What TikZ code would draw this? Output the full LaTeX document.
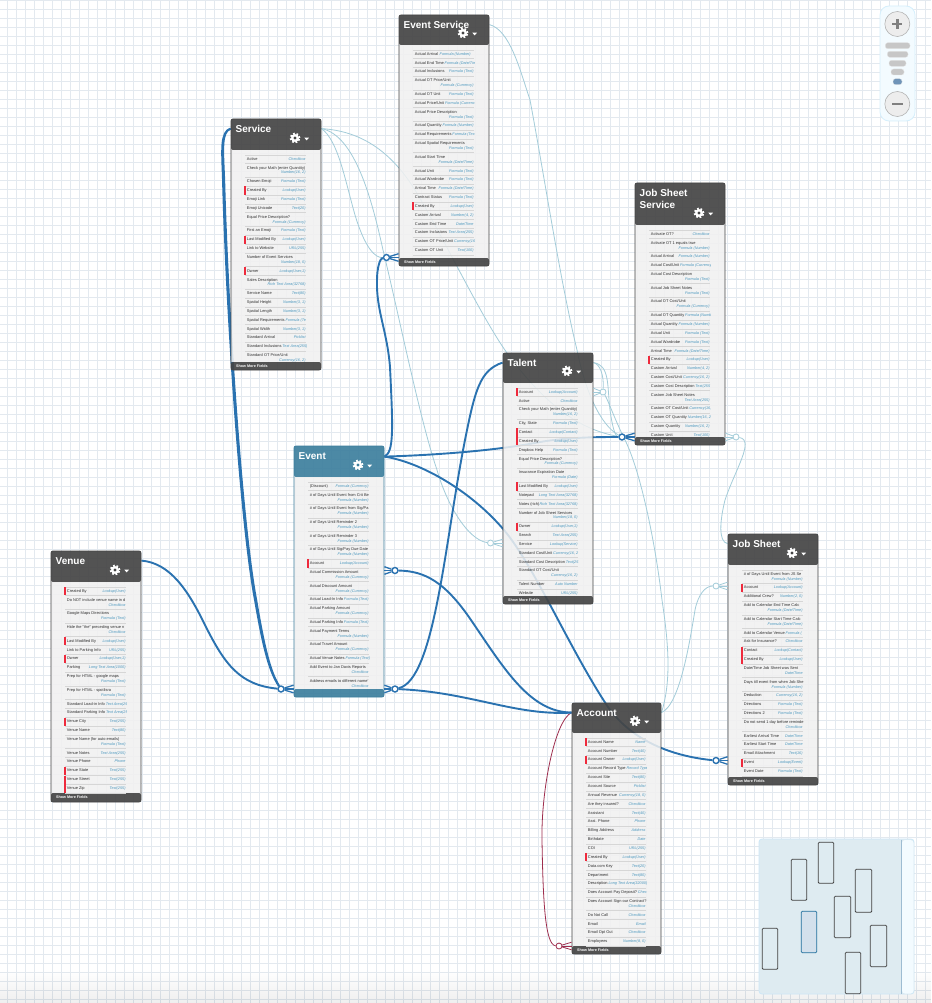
\documentclass[tikz,border=0pt]{standalone}
\usepackage{fontspec}
\setmainfont{Liberation Sans}
\usetikzlibrary{calc}
\pgfdeclarelayer{gridlayer}
\pgfdeclarelayer{connlayer}
\pgfsetlayers{gridlayer,connlayer,main}
\definecolor{boxdark}{HTML}{454545}
\definecolor{boxteal}{HTML}{3D7F9E}
\definecolor{panelc}{HTML}{F1F1F1}
\definecolor{gridc}{HTML}{E3E9EF}
\definecolor{linedark}{HTML}{2A72B0}
\definecolor{linelight}{HTML}{A3CCD9}
\definecolor{linemar}{HTML}{9E2D4D}
\definecolor{typec}{HTML}{4A97BE}
\definecolor{redbar}{HTML}{EE2A3C}
\definecolor{sepc}{HTML}{D6D6D6}
\definecolor{mapfill}{RGB}{222,235,241}
\definecolor{mapedge}{RGB}{205,232,247}
\definecolor{paleblue}{RGB}{243,251,255}
\definecolor{mapline}{RGB}{157,188,210}
\definecolor{mapsel}{RGB}{211,224,236}
\definecolor{mapseledge}{RGB}{31,110,156}
\definecolor{zoomedge}{RGB}{213,239,252}
\definecolor{pillblue}{RGB}{111,148,184}
\newcounter{rowc}
\def\hdcol{boxdark}
\tikzset{
  objframe/.style={draw,rounded corners=2pt,inner sep=0pt,line width=.8pt},
  objtitle/.style={anchor=north west,inner sep=0pt,text=white,align=left,font=\fontsize{10}{11.2}\selectfont\bfseries},
  morefields/.style={anchor=west,inner sep=0pt,text=white,font=\fontsize{3.7}{4}\selectfont\bfseries},
  fname/.style={anchor=west,inner sep=0pt,text height=2.9pt,text depth=.8pt,text=black!82,font=\fontsize{3.95}{4.5}\selectfont},
  ftype/.style={inner sep=0pt,text height=2.9pt,text depth=.8pt,text=typec,font=\fontsize{3.8}{4.5}\selectfont\itshape},
  darkconn/.style={draw=linedark,line width=1.9pt},
  lightconn/.style={draw=linelight,line width=.8pt},
  marconn/.style={draw=linemar,line width=.8pt},
  darkcrow/.style={circle,draw=linedark,fill=white,inner sep=0pt,minimum size=6pt,line width=1.4pt},
  lightcrow/.style={circle,draw=linelight,fill=white,inner sep=0pt,minimum size=6pt,line width=.8pt},
  marcrow/.style={circle,draw=linemar,fill=white,inner sep=0pt,minimum size=6pt,line width=.8pt},
  mapbox/.style={draw=black!75,line width=.8pt,rounded corners=1pt},
  pill/.style={fill=black!22,draw=black!10,line width=.3pt,rounded corners=2.5pt},
  zoombtn/.style={fill=black!7,draw=black!30,line width=.6pt}
}
\newcommand\gearicon[2]{%
  \fill[white] (#1,#2) circle (3.9pt);
  \draw[white,line width=2pt,dash pattern=on 1.8pt off 1.73pt] (#1,#2) circle (4.5pt);
  \fill[\hdcol] (#1,#2) circle (1.7pt);
  \fill[white] (#1+9.3,#2-.3) -- (#1+14,#2-.3) -- (#1+11.65,#2+2.4) -- cycle;
}
% id x1 y1 x2 y2 headerbottom footertop title
\newcommand\objbox[8]{%
  \xdef\xL{#2}\xdef\xR{#4}\xdef\yH{#6}\xdef\yF{#7}%
  \pgfmathparse{#6+9.2}\xdef\rowy{\pgfmathresult}%
  \fill[\hdcol,fill opacity=.92,rounded corners=2pt] (#2,#3) rectangle (#4,#6);
  \fill[\hdcol,fill opacity=.92,rounded corners=2pt] (#2,#7) rectangle (#4,#5);
  \fill[panelc,fill opacity=.86] (#2,#6) rectangle (#4,#7);
  \pgfmathsetmacro\bw{#4-#2}\pgfmathsetmacro\bh{#5-#3}%
  \node[objframe,draw=\hdcol,minimum width=\bw pt,minimum height=\bh pt] (#1) at ({(#2+#4)/2},{(#3+#5)/2}) {};
  \node[objtitle] (#1title) at (#2+4.5,#3+6.5) {#8};
  \gearicon{#4-26}{#6-12}
}
\newcommand\morefields[1]{\node[morefields] (#1more) at (\xL+5,\yF+4.2) {Show More Fields};}
\newcommand\rowline[1]{\draw[sepc,line width=.5pt] (\xL+14,\rowy+#1) -- (\xR-15,\rowy+#1);}
\newcommand\nextrow[1]{\pgfmathparse{\rowy+#1}\xdef\rowy{\pgfmathresult}}
\newcommand\redmark[1]{\fill[redbar] (\xL+13.2,\rowy-4.1) rectangle (\xL+15,\rowy+#1);}
% single row
\newcommand\RS[2]{\stepcounter{rowc}%
  \node[fname] (r\arabic{rowc}a) at (\xL+15.7,\rowy) {#1};
  \node[ftype,anchor=east] (r\arabic{rowc}b) at (\xR-15.2,\rowy) {#2};
  \rowline{4.35}\nextrow{8.85}}
\newcommand\RR[2]{\redmark{4.1}\RS{#1}{#2}}
% single row whose type runs on right after the name and is cut off
\newcommand\RT[2]{\stepcounter{rowc}%
  \node[fname] (r\arabic{rowc}a) at (\xL+15.7,\rowy) {#1};
  \node[ftype,anchor=west,xshift=.5pt] (r\arabic{rowc}b) at (r\arabic{rowc}a.east) {#2};
  \rowline{4.35}\nextrow{8.85}}
% double row
\newcommand\RD[2]{\stepcounter{rowc}%
  \node[fname] (r\arabic{rowc}a) at (\xL+15.7,\rowy) {#1};
  \node[ftype,anchor=east] (r\arabic{rowc}b) at (\xR-15.2,\rowy+4.9) {#2};
  \rowline{9.2}\nextrow{13.7}}
\newcommand\rowsbegin{\begin{scope}\clip (\xL,\yH) rectangle (\xR-15,\yF);\draw[sepc,line width=.5pt] (\xL+14,\yH+4.8) -- (\xR-15,\yH+4.8);}
\newcommand\rowsend{\end{scope}}
% name box-anchor x y circle-style line-style
\newcommand\crowfoot[6]{%
  \node[#5] (#1) at (#3,#4) {};
  \foreach \d in {-3.8,0,3.8}{\draw[#6] (#1) -- ($(#2 |- #1)+(0,\d)$);}
}
\begin{document}
\begin{tikzpicture}[x=1pt,y=-1pt]
\useasboundingbox (0,0) rectangle (931,1003);
\begin{pgfonlayer}{gridlayer}
  \fill[white] (0,0) rectangle (931,1003);
  \foreach \k in {0,...,102}{\draw[gridc,line width=.9pt] (7.3+9*\k,0) -- (7.3+9*\k,1003);}
  \foreach \k in {0,...,111}{\draw[gridc,line width=.9pt] (0,.3+9*\k) -- (931,.3+9*\k);}
  \foreach \k in {0,...,15}{\fill[black,fill opacity=.0045] (0,972+2*\k) rectangle (931,1003);}
\end{pgfonlayer}

% ---------- Service
\objbox{svc}{231}{119}{321}{370}{150}{362}{Service}
\morefields{svc}
\rowsbegin
\RS{Active}{Checkbox}
\RD{Check your Math (enter Quantity)}{Number(16, 2)}
\RS{Chosen Emoji}{Formula (Text)}
\RR{Created By}{Lookup(User)}
\RS{Emoji Link}{Formula (Text)}
\RS{Emoji Unicode}{Text(20)}
\RD{Equal Price Description?}{Formula (Currency)}
\RS{First an Emoji}{Formula (Text)}
\RR{Last Modified By}{Lookup(User)}
\RS{Link to Website}{URL(255)}
\RD{Number of Event Services}{Number(18, 0)}
\RR{Owner}{Lookup(User,1)}
\RD{Sales Description}{Rich Text Area(32768)}
\RS{Service Name}{Text(80)}
\RS{Spatial Height}{Number(3, 1)}
\RS{Spatial Length}{Number(3, 1)}
\RT{Spatial Requirements}{Formula (Te}
\RS{Spatial Width}{Number(3, 1)}
\RS{Standard Arrival}{Picklist}
\RT{Standard Inclusions}{Text Area(255)}
\RD{Standard OT Price/Unit}{Currency(16, 2)}
\rowsend

% ---------- Event Service
\objbox{evs}{399}{15}{489}{266}{45}{258}{Event Service}
\morefields{evs}
\rowsbegin
\RT{Actual Arrival}{\,Formula (Number)}
\RT{Actual End Time}{Formula (Date/Tim}
\RS{Actual Inclusions}{Formula (Text)}
\RD{Actual OT Price/Unit}{Formula (Currency)}
\RS{Actual OT Unit}{Formula (Text)}
\RT{Actual Price/Unit}{Formula (Currenc}
\RD{Actual Price Description}{Formula (Text)}
\RT{Actual Quantity}{Formula (Number)}
\RT{Actual Requirements}{Formula (Tex}
\RD{Actual Spatial Requirements}{Formula (Text)}
\RD{Actual Start Time}{Formula (Date/Time)}
\RS{Actual Unit}{Formula (Text)}
\RS{Actual Wardrobe}{Formula (Text)}
\RS{Arrival Time}{Formula (Date/Time)}
\RS{Contract Status}{Formula (Text)}
\RR{Created By}{Lookup(User)}
\RS{Custom Arrival}{Number(4, 2)}
\RS{Custom End Time}{Date/Time}
\RS{Custom Inclusions}{Text Area(255)}
\RT{Custom OT Price/Unit}{Currency(16}
\RS{Custom OT Unit}{Text(100)}
\rowsend

% ---------- Job Sheet Service
\objbox{jss}{635}{183}{725}{445}{225}{437}{Job Sheet\\Service}
\morefields{jss}
\rowsbegin
\RS{Activate OT?}{Checkbox}
\RD{Activate OT 1 equals true}{Formula (Number)}
\RS{Actual Arrival}{Formula (Number)}
\RT{Actual Cost/Unit}{Formula (Currency}
\RD{Actual Cost Description}{Formula (Text)}
\RD{Actual Job Sheet Notes}{Formula (Text)}
\RD{Actual OT Cost/Unit}{Formula (Currency)}
\RT{Actual OT Quantity}{Formula (Numb}
\RT{Actual Quantity}{Formula (Number)}
\RS{Actual Unit}{Formula (Text)}
\RS{Actual Wardrobe}{Formula (Text)}
\RS{Arrival Time}{Formula (Date/Time)}
\RR{Created By}{Lookup(User)}
\RS{Custom Arrival}{Number(4, 2)}
\RS{Custom Cost/Unit}{Currency(16, 2)}
\RT{Custom Cost Description}{Text(255}
\RD{Custom Job Sheet Notes}{Text Area(255)}
\RT{Custom OT Cost/Unit}{Currency(16,}
\RT{Custom OT Quantity}{Number(16, 2}
\RS{Custom Quantity}{Number(16, 2)}
\RS{Custom Unit}{Text(100)}
\rowsend

% ---------- Talent
\objbox{tal}{503}{353}{593}{604}{383}{596}{Talent}
\morefields{tal}
\rowsbegin
\RR{Account}{Lookup(Account)}
\RS{Active}{Checkbox}
\RD{Check your Math (enter Quantity)}{Number(16, 2)}
\RS{City, State}{Formula (Text)}
\RR{Contact}{Lookup(Contact)}
\RR{Created By}{Lookup(User)}
\RS{Dropbox Help}{Formula (Text)}
\RD{Equal Price Description?}{Formula (Currency)}
\RD{Insurance Expiration Date}{Formula (Date)}
\RR{Last Modified By}{Lookup(User)}
\RS{Notepad}{Long Text Area(32768)}
\RS{Notes (rich)}{Rich Text Area(32768)}
\RD{Number of Job Sheet Services}{Number(18, 0)}
\RR{Owner}{Lookup(User,1)}
\RS{Search}{Text Area(255)}
\RS{Service}{Lookup(Service)}
\RT{Standard Cost/Unit}{Currency(16, 2}
\RT{Standard Cost Description}{Text(25}
\RD{Standard OT Cost/Unit}{Currency(16, 2)}
\RS{Talent Number}{Auto Number}
\RS{Website}{URL(255)}
\rowsend

% ---------- Event
\def\hdcol{boxteal}
\objbox{evt}{294}{446}{384}{697}{477}{689}{Event}
\def\hdcol{boxdark}
\rowsbegin
\RS{(Discount)}{Formula (Currency)}
\RD{\# of Days Until Event from Crit Be}{Formula (Number)}
\RD{\# of Days Until Event from Sig/Pa}{Formula (Number)}
\RD{\# of Days Until Reminder 2}{Formula (Number)}
\RD{\# of Days Until Reminder 3}{Formula (Number)}
\RD{\# of Days Until Sig/Pay Due Date}{Formula (Number)}
\RR{Account}{Lookup(Account)}
\RD{Actual Commission Amount}{Formula (Currency)}
\RD{Actual Discount Amount}{Formula (Currency)}
\RT{Actual Load-In Info}{Formula (Text)}
\RD{Actual Parking Amount}{Formula (Currency)}
\RT{Actual Parking Info}{Formula (Text)}
\RD{Actual Payment Terms}{Formula (Number)}
\RD{Actual Travel Amount}{Formula (Currency)}
\RT{Actual Venue Notes}{Formula (Text)}
\RD{Add Event to Jan Davis Reports}{Checkbox}
\RD{Address emails to different name'}{Checkbox}
\rowsend

% ---------- Venue
\objbox{ven}{51}{551}{141}{802}{582}{793}{Venue}
\morefields{ven}
\rowsbegin
\RR{Created By}{Lookup(User)}
\RD{Do NOT include venue name in d}{Checkbox}
\RD{Google Maps Directions}{Formula (Text)}
\RD{Hide the "the" preceding venue n}{Checkbox}
\RR{Last Modified By}{Lookup(User)}
\RS{Link to Parking Info}{URL(255)}
\RR{Owner}{Lookup(User,1)}
\RS{Parking}{Long Text Area(1000)}
\RD{Prep for HTML - google maps}{Formula (Text)}
\RD{Prep for HTML - spotlisra}{Formula (Text)}
\RT{Standard Load-in Info}{Text Area(25}
\RT{Standard Parking Info}{Text Area(25}
\RR{Venue City}{Text(255)}
\RS{Venue Name}{Text(80)}
\RD{Venue Name (for auto emails)}{Formula (Text)}
\RS{Venue Notes}{Text Area(255)}
\RS{Venue Phone}{Phone}
\RR{Venue State}{Text(255)}
\RR{Venue Street}{Text(255)}
\RR{Venue Zip}{Text(255)}
\rowsend

% ---------- Job Sheet
\objbox{job}{728}{534}{818}{785}{565}{777}{Job Sheet}
\morefields{job}
\rowsbegin
\RD{\# of Days Until Event from JS Se}{Formula (Number)}
\RR{Account}{Lookup(Account)}
\RS{Additional Crew?}{Number(2, 0)}
\RD{Add to Calendar End Time Calc}{Formula (Date/Time)}
\RD{Add to Calendar Start Time Calc}{Formula (Date/Time)}
\RT{Add to Calendar Venue}{Formula (}
\RS{Ask for Insurance?}{Checkbox}
\RR{Contact}{Lookup(Contact)}
\RR{Created By}{Lookup(User)}
\RD{Date/Time Job Sheet was Sent}{Date/Time}
\RD{Days till event from when Job She}{Formula (Number)}
\RS{Deduction}{Currency(16, 2)}
\RS{Directions}{Formula (Text)}
\RS{Directions 2}{Formula (Text)}
\RD{Do not send 1 day before reminde}{Checkbox}
\RS{Earliest Arrival Time}{Date/Time}
\RS{Earliest Start Time}{Date/Time}
\RS{Email Attachment}{Text(16)}
\RR{Event}{Lookup(Event)}
\RS{Event Date}{Formula (Text)}
\rowsend

% ---------- Account
\objbox{acc}{572}{703}{661}{954}{733}{946}{Account}
\morefields{acc}
\rowsbegin
\RR{Account Name}{Name}
\RS{Account Number}{Text(40)}
\RR{Account Owner}{Lookup(User)}
\RT{Account Record Type}{Record Type}
\RS{Account Site}{Text(80)}
\RS{Account Source}{Picklist}
\RS{Annual Revenue}{Currency(18, 0)}
\RS{Are they insured?}{Checkbox}
\RS{Assistant}{Text(40)}
\RS{Asst. Phone}{Phone}
\RS{Billing Address}{Address}
\RS{Birthdate}{Date}
\RS{COI}{URL(255)}
\RR{Created By}{Lookup(User)}
\RS{Data.com Key}{Text(20)}
\RS{Department}{Text(80)}
\RT{Description}{Long Text Area(32000)}
\RT{Does Account Pay Deposit?}{Chec}
\RD{Does Account Sign our Contract?}{Checkbox}
\RS{Do Not Call}{Checkbox}
\RS{Email}{Email}
\RS{Email Opt Out}{Checkbox}
\RS{Employees}{Number(8, 0)}
\rowsend

% ---------- connectors
\coordinate (svcE) at ($(svc.north east)+(0,10)$);
\coordinate (svcW) at ($(svc.north west)+(0,10)$);
\coordinate (evsE) at ($(evs.north east)+(0,10)$);
\coordinate (talW) at ($(tal.north west)+(0,10)$);
\coordinate (talE) at ($(tal.north east)+(0,10)$);
\coordinate (evtE) at ($(evt.north east)+(0,11)$);
\coordinate (venE) at ($(ven.north east)+(0,10)$);
\coordinate (accW) at ($(acc.north west)+(0,10)$);
\coordinate (accE) at ($(acc.north east)+(0,10)$);
\coordinate (jobW) at ($(job.north west)+(0,10)$);

\crowfoot{cEvsSvc}{evs.west}{386.5}{257.5}{darkcrow}{linedark,line width=1.3pt}
\crowfoot{cJssTal}{jss.west}{622}{437}{darkcrow}{linedark,line width=1.3pt}
\crowfoot{cEvtVen}{evt.west}{281}{689}{darkcrow}{linedark,line width=1.3pt}
\crowfoot{cEvtAcc}{evt.east}{395}{570.5}{darkcrow}{linedark,line width=1.3pt}
\crowfoot{cEvtTal}{evt.east}{395}{689}{darkcrow}{linedark,line width=1.3pt}
\crowfoot{cJobEvt}{job.west}{716}{760.5}{darkcrow}{linedark,line width=1.3pt}
\crowfoot{cAccAcc}{acc.west}{559}{946}{marcrow}{linemar,line width=.8pt}
\crowfoot{cTalSvc}{tal.west}{490.5}{543}{lightcrow}{linelight,line width=.8pt}
\crowfoot{cTalAcc}{tal.east}{603}{392}{lightcrow}{linelight,line width=.8pt}
\crowfoot{cJobAcc}{job.west}{716}{586}{lightcrow}{linelight,line width=.8pt}
\crowfoot{cJssJob}{jss.east}{736}{437}{lightcrow}{linelight,line width=.8pt}

\begin{pgfonlayer}{connlayer}
  % light connectors
  \draw[lightconn] (svcE) .. controls (338,140) and (345,180) .. (355,215) .. controls (365,248) and (375,258) .. (cEvsSvc);
  \draw[lightconn] (svcE) .. controls (355,135) and (372,200) .. (383,250) .. controls (400,320) and (420,420) .. (437,470) .. controls (447,505) and (468,540) .. (cTalSvc);
  \draw[lightconn] (svcE) .. controls (360,131) and (390,150) .. (415,190) .. controls (445,240) and (480,315) .. (507,353) .. controls (545,405) and (580,430) .. (cJssTal);
  \draw[lightconn] (evsE) .. controls (510,30) and (520,70) .. (530,100) .. controls (545,180) and (560,280) .. (577,350) .. controls (585,390) and (600,425) .. (cJssTal);
  \draw[lightconn] (talE) .. controls (610,365) and (607,385) .. (610,410) .. controls (612,425) and (615,437) .. (cJssTal);
  \draw[lightconn] (talE) .. controls (600,364) and (604,375) .. (cTalAcc);
  \draw[lightconn] (accE) .. controls (672,680) and (668,640) .. (662,600) .. controls (655,540) and (640,470) .. (625,440) .. controls (615,420) and (608,400) .. (cTalAcc);
  \draw[lightconn] (accE) .. controls (680,705) and (690,640) .. (695,610) .. controls (698,595) and (705,586) .. (cJobAcc);
  \draw[lightconn] (jobW) .. controls (718,542) and (720,520) .. (725,500) .. controls (735,470) and (755,440) .. (cJssJob);
  % maroon self link
  \draw[marconn] (accW) .. controls (555,720) and (541,790) .. (542,840) .. controls (543,900) and (545,945) .. (cAccAcc);
  % dark connectors
  \draw[darkconn] (svcW) .. controls (220,132) and (222,150) .. (223,180) .. controls (226,300) and (240,520) .. (255,600) .. controls (262,640) and (268,670) .. (cEvtVen);
  \draw[darkconn] (svcW) .. controls (221,132) and (223,150) .. (224.2,180) .. controls (227.2,300) and (241.2,520) .. (256.2,600) .. controls (263,640) and (269,670) .. (cEvtVen);
  \draw[darkconn] (venE) .. controls (170,563) and (188,590) .. (205,625) .. controls (225,665) and (240,685) .. (cEvtVen);
  \draw[darkconn] (evtE) .. controls (394,452) and (393,430) .. (390,367) .. controls (387,330) and (376,310) .. (377,280) .. controls (377,268) and (380,258) .. (cEvsSvc);
  \draw[darkconn] (evtE) .. controls (440,455) and (500,450) .. (540,442) .. controls (570,437) and (600,437) .. (cJssTal);
  \draw[darkconn] (evtE) .. controls (420,462) and (470,490) .. (504,530) .. controls (535,567) and (570,650) .. (608,707) .. controls (635,745) and (680,757) .. (cJobEvt);
  \draw[darkconn] (talW) .. controls (480,370) and (475,390) .. (465,440) .. controls (445,540) and (435,680) .. (cEvtTal);
  \draw[darkconn] (accW) .. controls (530,712) and (505,670) .. (471,620) .. controls (445,582) and (425,571) .. (cEvtAcc);
  \draw[darkconn] (accW) .. controls (515,716) and (470,692) .. (cEvtTal);
\end{pgfonlayer}

% ---------- minimap
\filldraw[fill=mapfill,draw=mapedge,line width=.8pt,rounded corners=3pt] (759,839) rectangle (914,994);
\fill[paleblue,rounded corners=3pt] (902,840) rectangle (913.5,993.5);
\draw[mapline,line width=.8pt] (901.7,839.5) -- (901.7,993.5);
\draw[mapbox] (762.3,928.3) rectangle (777.7,969.3);
\draw[mapbox] (791.3,859.3) rectangle (806.7,900.3);
\draw[mapbox] (818.3,842.3) rectangle (833.7,883.3);
\draw[mapbox] (855.3,869.3) rectangle (871.7,912.3);
\draw[mapbox] (834.3,896.3) rectangle (850.7,937.7);
\filldraw[mapbox,fill=mapsel,draw=mapseledge] (801.3,911.3) rectangle (816.7,952.7);
\draw[mapbox] (870.3,925.3) rectangle (886.7,966.7);
\draw[mapbox] (845.3,952.3) rectangle (860.7,993.7);

% ---------- zoom control
\filldraw[fill=paleblue,draw=zoomedge,line width=.8pt,rounded corners=9pt] (880,6) rectangle (915,121);
\filldraw[zoombtn] (897.3,24) circle (12.5pt);
\filldraw[zoombtn] (897.3,104) circle (12.5pt);
\draw[black!50,line width=2.4pt] (892.3,24) -- (902.3,24) (897.3,19) -- (897.3,29);
\draw[black!50,line width=2.4pt] (892,104) -- (902.6,104);
\filldraw[pill] (885.3,42.7) rectangle (910,48.7);
\filldraw[pill] (887.3,51.3) rectangle (908,57.3);
\filldraw[pill] (889,60.3) rectangle (906,66.3);
\filldraw[pill] (891,69) rectangle (904,75);
\filldraw[pill,fill=pillblue] (893,78.7) rectangle (902,84.7);
\end{tikzpicture}
\end{document}
